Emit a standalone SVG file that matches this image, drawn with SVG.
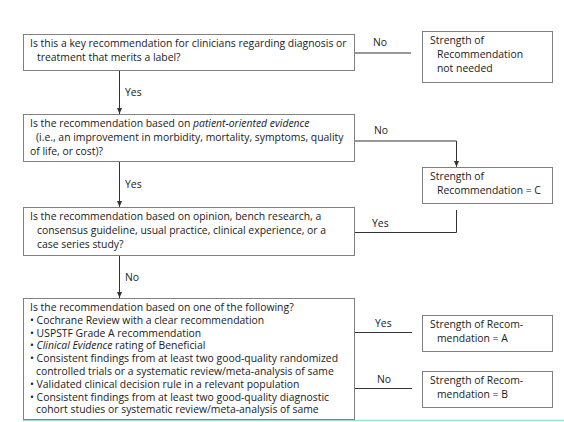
<svg xmlns="http://www.w3.org/2000/svg" width="564" height="422" viewBox="0 0 564 422">
<defs>
<style>
.box{fill:#fff;stroke:#808080;stroke-width:1}
.t{font-family:"Open Sans","Noto Sans","Liberation Sans",sans-serif;font-size:10.4px;fill:#1a1a1a}
.lbl{font-family:"Open Sans","Noto Sans","Liberation Sans",sans-serif;font-size:10.4px;fill:#1a1a1a}
.ln{fill:none;stroke:#333;stroke-width:1}
.i{font-style:italic}
</style>
<marker id="ah" viewBox="0 0 6 6" refX="6" refY="3" markerWidth="6" markerHeight="6" orient="auto" markerUnits="userSpaceOnUse">
<path d="M0,0.5 L6,3 L0,5.5 Z" fill="#333"/>
</marker>
</defs>
<rect width="564" height="422" fill="#fff"/>
<g id="connectors">
<line class="ln" x1="355" y1="53" x2="411" y2="53"/>
<line class="ln" x1="119.5" y1="71" x2="119.5" y2="114" marker-end="url(#ah)"/>
<polyline class="ln" points="355,141 456.5,141 456.5,167" marker-end="url(#ah)"/>
<line class="ln" x1="119.5" y1="162" x2="119.5" y2="207" marker-end="url(#ah)"/>
<polyline class="ln" points="456.5,210 456.5,232.5 355,232.5"/>
<line class="ln" x1="119.5" y1="256" x2="119.5" y2="298" marker-end="url(#ah)"/>
<line class="ln" x1="355" y1="332.5" x2="412" y2="332.5"/>
<line class="ln" x1="355" y1="388.5" x2="412" y2="388.5"/>
<line x1="23" y1="420.5" x2="564" y2="420.5" stroke="#a6dcd8" stroke-width="1.5"/>
<text class="lbl" x="373" y="45.5">No</text>
<text class="lbl" x="125" y="95.5">Yes</text>
<text class="lbl" x="374" y="133.5">No</text>
<text class="lbl" x="125" y="187.5">Yes</text>
<text class="lbl" x="372" y="226.5">Yes</text>
<text class="lbl" x="125" y="280.5">No</text>
<text class="lbl" x="375" y="326.5">Yes</text>
<text class="lbl" x="377" y="382.5">No</text>
</g>
<g id="q1">
<rect class="box" x="23.5" y="34.5" width="331" height="36"/>
<text class="t" x="30" y="47">Is this a key recommendation for clinicians regarding diagnosis or</text>
<text class="t" x="37" y="61">treatment that merits a label?</text>
</g>
<g id="notneeded">
<rect class="box" x="422.5" y="31.5" width="130" height="51"/>
<text class="t" x="430" y="44">Strength of</text>
<text class="t" x="437" y="58">Recommendation</text>
<text class="t" x="437" y="72">not needed</text>
</g>
<g id="q2">
<rect class="box" x="23.5" y="114.5" width="331" height="47"/>
<text class="t" x="30" y="127">Is the recommendation based on <tspan class="i">patient-oriented evidence</tspan></text>
<text class="t" x="36" y="141">(i.e., an improvement in morbidity, mortality, symptoms, quality</text>
<text class="t" x="30" y="155">of life, or cost)?</text>
</g>
<g id="gradeC">
<rect class="box" x="422.5" y="167.5" width="130" height="36"/>
<text class="t" x="430" y="180">Strength of</text>
<text class="t" x="437" y="194">Recommendation = C</text>
</g>
<g id="q3">
<rect class="box" x="23.5" y="207.5" width="331" height="48"/>
<text class="t" x="30" y="220">Is the recommendation based on opinion, bench research, a</text>
<text class="t" x="37" y="234">consensus guideline, usual practice, clinical experience, or a</text>
<text class="t" x="37" y="248">case series study?</text>
</g>
<g id="q4">
<rect class="box" x="23.5" y="298.5" width="331" height="121"/>
<text class="t" x="30" y="311">Is the recommendation based on one of the following?</text>
<text class="t" x="30" y="323.8">• Cochrane Review with a clear recommendation</text>
<text class="t" x="30" y="336.6">• USPSTF Grade A recommendation</text>
<text class="t" x="30" y="349.4">• <tspan class="i">Clinical Evidence</tspan> rating of Beneficial</text>
<text class="t" x="30" y="362.2">• Consistent findings from at least two good-quality randomized</text>
<text class="t" x="36" y="375">controlled trials or a systematic review/meta-analysis of same</text>
<text class="t" x="30" y="387.8">• Validated clinical decision rule in a relevant population</text>
<text class="t" x="30" y="400.6">• Consistent findings from at least two good-quality diagnostic</text>
<text class="t" x="36" y="413.4">cohort studies or systematic review/meta-analysis of same</text>
</g>
<g id="gradeA">
<rect class="box" x="422.5" y="315.5" width="130" height="36"/>
<text class="t" x="430" y="328">Strength of Recom-</text>
<text class="t" x="437" y="342">mendation = A</text>
</g>
<g id="gradeB">
<rect class="box" x="422.5" y="371.5" width="130" height="36"/>
<text class="t" x="430" y="384">Strength of Recom-</text>
<text class="t" x="437" y="398">mendation = B</text>
</g>
</svg>
